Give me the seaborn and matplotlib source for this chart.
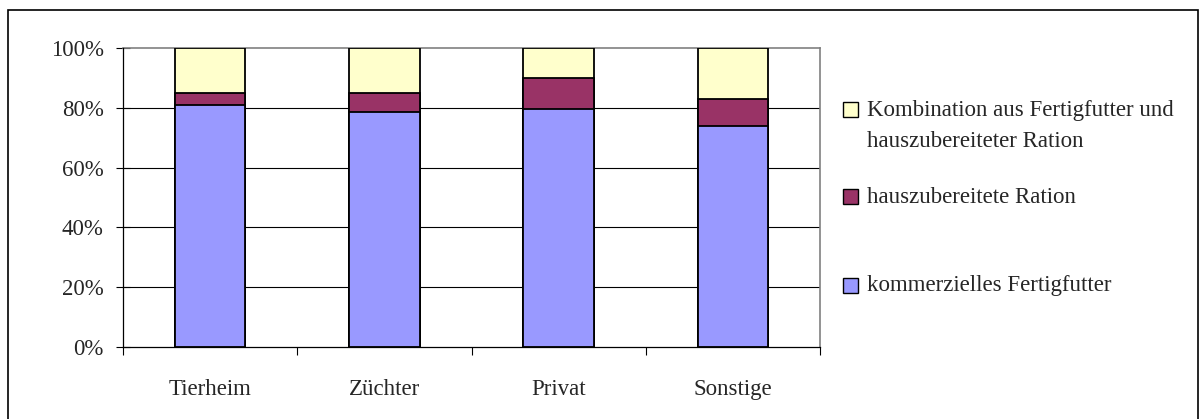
import matplotlib
matplotlib.use("Agg")
import matplotlib.pyplot as plt
from matplotlib.patches import Rectangle
from matplotlib.ticker import FixedLocator, FuncFormatter
import numpy as np
import pandas as pd
import seaborn as sns

# Fütterungsart nach Herkunft der Tiere (Anteile in %)
categories = ["Tierheim", "Züchter", "Privat", "Sonstige"]
kommerziell = [81.0, 78.5, 79.5, 74.0]
hauszubereitet = [4.0, 6.5, 10.5, 9.0]
kombination = [15.0, 15.0, 10.0, 17.0]

series_labels = [
    "Kombination aus Fertigfutter und\nhauszubereiteter Ration",
    "hauszubereitete Ration",
    "kommerzielles Fertigfutter",
]
series_colors = ["#FFFFCC", "#993366", "#9999FF"]
y_ticks = [0, 20, 40, 60, 80, 100]

sns.set_style("white")
plt.rcParams["font.family"] = ["Liberation Serif", "DejaVu Serif"]
FS = 16.5

W, H = 1202, 419
fig = plt.figure(figsize=(W / 100, H / 100), dpi=100)
ax = fig.add_axes([123 / W, 1 - 347 / H, (820 - 123) / W, (347 - 48) / H])

df = pd.DataFrame({
    "Kategorie": categories,
    "kommerziell": kommerziell,
    "hauszubereitet": hauszubereitet,
    "kombination": kombination,
})
df["stufe1"] = df["kommerziell"]
df["stufe2"] = df["kommerziell"] + df["hauszubereitet"]
df["stufe3"] = df["stufe2"] + df["kombination"]

# stacked bars: draw cumulative totals from the top segment down
for col, color in zip(["stufe3", "stufe2", "stufe1"], series_colors):
    sns.barplot(data=df, x="Kategorie", y=col, color=color, width=0.405,
                edgecolor="black", linewidth=1.3, saturation=1, ax=ax,
                zorder=3)

ax.set_xlim(-0.5, len(categories) - 0.5)
ax.set_ylim(0, 100)
ax.set_xlabel("")
ax.set_ylabel("")

# gridlines
for v in y_ticks[1:-1]:
    ax.axhline(v, color="black", linewidth=0.8, zorder=1)

ax.yaxis.set_major_locator(FixedLocator(y_ticks))
ax.yaxis.set_major_formatter(FuncFormatter(lambda v, p: f"{int(v)}%"))
ax.tick_params(axis="y", which="major", direction="inout", length=10,
               width=0.8, color="black", labelsize=FS, pad=9, left=True)

ax.set_xticks(range(len(categories)))
ax.set_xticklabels(categories)
ax.xaxis.set_minor_locator(FixedLocator(np.arange(-0.5, len(categories), 1.0)))
ax.tick_params(axis="x", which="major", length=0, labelsize=FS, pad=23)
ax.tick_params(axis="x", which="minor", direction="out", length=6,
               width=0.8, color="black", bottom=True)

for side in ["left", "bottom"]:
    ax.spines[side].set_color("black")
    ax.spines[side].set_linewidth(0.9)
    ax.spines[side].set_zorder(4)
for side in ["top", "right"]:
    ax.spines[side].set_color("#808080")
    ax.spines[side].set_linewidth(1.2)

# legend (handles placed in figure pixel coordinates)
legend_rows = [(110, series_labels[0], series_colors[0]),
               (197, series_labels[1], series_colors[1]),
               (285, series_labels[2], series_colors[2])]
for yc, label, color in legend_rows:
    fig.patches.append(Rectangle((843 / W, 1 - (yc + 7.5) / H), 15 / W, 15 / H,
                                 transform=fig.transFigure, facecolor=color,
                                 edgecolor="black", linewidth=1.0))
    fig.text(867 / W, 1 - (yc - 10) / H, label, fontsize=FS, ha="left",
             va="top", linespacing=1.6)

# outer chart frame
fig.patches.append(Rectangle((8 / W, -0.05), (1198 - 8) / W, 1 - 10 / H + 0.05,
                             transform=fig.transFigure, fill=False,
                             edgecolor="black", linewidth=1.2))

fig.savefig("out.png", dpi=100)
